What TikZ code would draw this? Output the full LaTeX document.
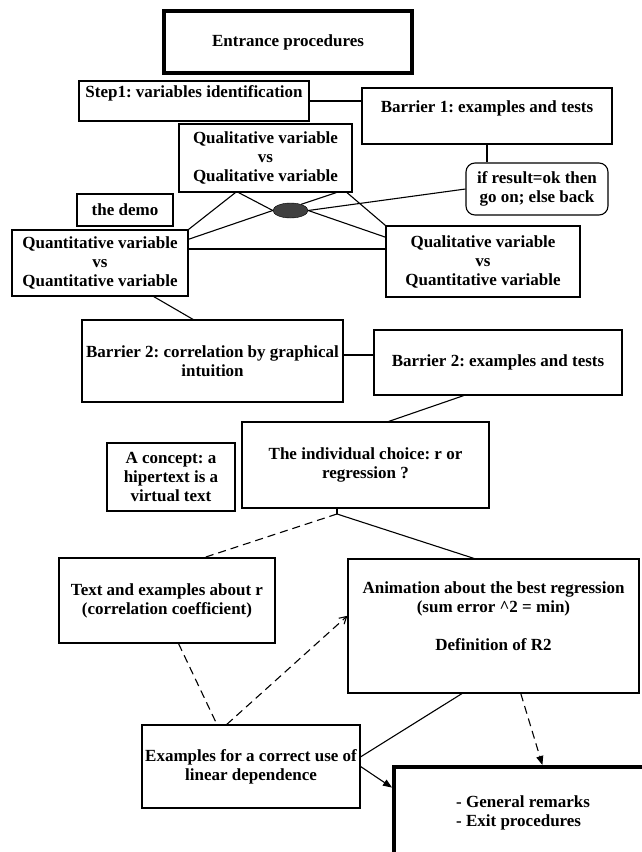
\documentclass[tikz,border=0pt]{standalone}
\usepackage{fontspec}
\setmainfont{Liberation Serif}
\usetikzlibrary{shapes.geometric,arrows.meta}
\frenchspacing

\begin{document}
\begin{tikzpicture}[x=1pt,y=-1pt,
    every node/.style={font=\fontsize{17}{19}\selectfont\bfseries},
    box/.style={draw,line width=1.1pt,align=center,inner sep=2pt},
    thickbox/.style={draw,line width=4pt,align=center},
    conn/.style={line width=1.1pt},
    dashline/.style={line width=1.1pt,dash pattern=on 8pt off 5pt}]
          \fill[white] (0,0) rectangle (641,852);
          \useasboundingbox (0,0) rectangle (641,852);

          \node[thickbox,minimum width=248pt,minimum height=62pt] (entr) at (288,42) {Entrance procedures};
          \node[box,minimum width=230pt,minimum height=40pt,align=left] (step) at (194,101) {Step1: variables identification\\ \mbox{}};
          \node[box,minimum width=250pt,minimum height=56pt] (bar1) at (487,116) {Barrier 1: examples and tests\\ \mbox{}};
          \node[box,minimum width=173pt,minimum height=68pt] (qq) at (265.5,158) {Qualitative variable\\ vs\\ Qualitative variable};
          \node[box,rounded corners=9pt,minimum width=142pt,minimum height=52pt] (okbox) at (537,189) {if result=ok then\\ go on; else back};
          \node[box,minimum width=96pt,minimum height=32pt] (demo) at (125,210) {the demo};
          \node[ellipse,draw,fill=black!75,minimum width=35pt,minimum height=15pt,inner sep=0pt] (blob) at (290.5,210.5) {};
          \node[box,minimum width=176pt,minimum height=66pt] (quant) at (100,263) {Quantitative variable\\ vs\\ Quantitative variable};
          \node[box,minimum width=194pt,minimum height=71pt] (qn) at (483,261.5) {Qualitative variable\\ vs\\ Quantitative variable};
          \node[box,minimum width=261pt,minimum height=82pt] (bar2a) at (212.5,361) {Barrier 2: correlation by graphical\\ intuition};
          \node[box,minimum width=248pt,minimum height=65pt] (bar2b) at (498,362.5) {Barrier 2: examples and tests};
          \node[box,minimum width=247pt,minimum height=86pt] (choice) at (365.5,465) {The individual choice: r or\\ regression ?};
          \node[box,minimum width=128pt,minimum height=68pt] (concept) at (171,477) {A concept: a\\ hipertext is a\\ virtual text};
          \node[box,minimum width=216pt,minimum height=85pt] (textr) at (167,600.5) {Text and examples about r\\ (correlation coefficient)};
          \node[box,minimum width=291pt,minimum height=134pt] (anim) at (493.5,626) {Animation about the best regression\\ (sum error \textasciicircum2 = min)\\[19pt] Definition of R2\\ \mbox{}};
          \node[box,minimum width=218pt,minimum height=83pt] (exam) at (251,766.5) {Examples for a correct use of\\ linear dependence};
          \node[thickbox,minimum width=258pt,minimum height=92pt,align=left] (final) at (523,813) {- General remarks\\ - Exit procedures};

          \draw[conn] (step.east) -- (step.east -| bar1.west);
          \draw[conn] (bar1.south) -- (bar1.south |- okbox.north);
          \draw[conn] (blob.east) -- (okbox.west);
          \draw[conn] (qq.229) -- (quant.north east);
          \draw[conn] (qq.232) -- (blob.west);
          \draw[conn] (blob.west) -- (quant.15);
          \draw[conn] (qq.-26) -- (blob.30);
          \draw[conn] (qq.-23) -- (qn.north west);
          \draw[conn] (blob.east) -- (qn.166);
          \draw[conn] ([yshift=14pt]quant.east) -- ([yshift=14pt]quant.east -| qn.west);
          \draw[conn] (quant.-32) -- (bar2a.115);
          \draw[conn] ([yshift=6pt]bar2a.east) -- ([yshift=6pt]bar2a.east -| bar2b.west);
          \draw[conn] (bar2b.224) -- (choice.62);
          \coordinate (fork) at (337,514);
          \draw[conn] (choice.south -| fork) -- (fork);
          \draw[dashline] (fork) -- (textr.49);
          \draw[conn] (fork) -- (anim.106);
          \draw[dashline] (textr.-75) -- (exam.129);
          \draw[dashline,-{Straight Barb[length=7pt,width=8pt]}] (exam.120) -- (anim.176);
          \draw[conn] (anim.245) -- (exam.5);
          \draw[conn,-{Triangle[length=9pt,width=7pt]}] (exam.east) -- (final.169);
          \draw[dashline,-{Triangle[length=9pt,width=7pt]}] (anim.-68) -- (final.68);
\end{tikzpicture}
\end{document}
